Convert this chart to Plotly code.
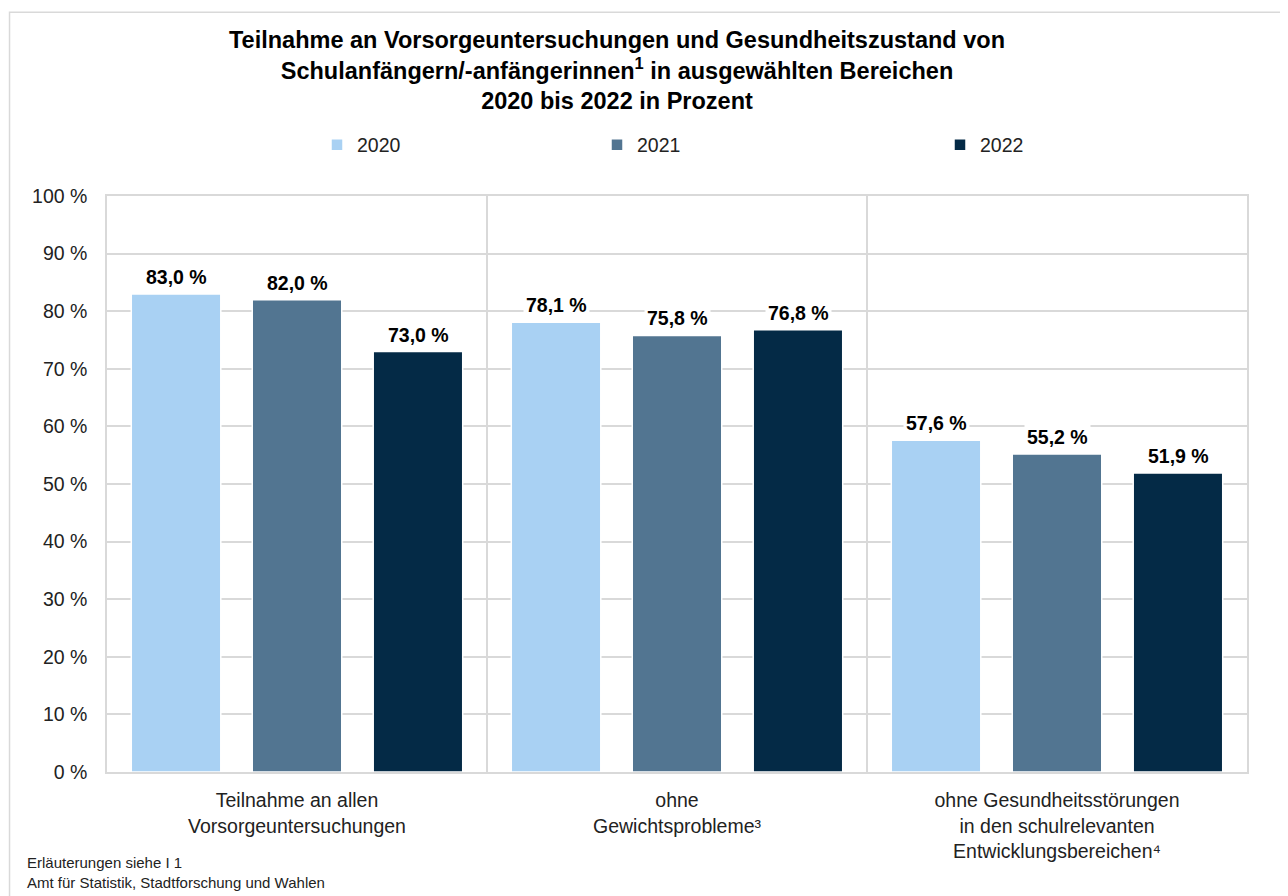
import plotly.graph_objects as go

categories = [
    "Teilnahme an allen<br>Vorsorgeuntersuchungen",
    "ohne<br>Gewichtsprobleme³",
    "ohne Gesundheitsstörungen<br>in den schulrelevanten<br>Entwicklungsbereichen⁴",
]
years = ["2020", "2021", "2022"]
values_2020 = [83.0, 78.1, 57.6]
values_2021 = [82.0, 75.8, 55.2]
values_2022 = [73.0, 76.8, 51.9]
series = [values_2020, values_2021, values_2022]
colors = ["#A9D1F3", "#527591", "#042A46"]
y_ticks = list(range(0, 101, 10))
y_tick_labels = [f"{v} %" for v in y_ticks]

FONT = "Liberation Sans, Arial, sans-serif"
GRID = "#d9d9d9"
W, H = 1280, 888  # page body adds an 8px margin

fig = go.Figure()
legend_ids = ["legend2", "legend3", "legend4"]
for i, (year, vals) in enumerate(zip(years, series)):
    fig.add_trace(go.Bar(
        x=categories, y=vals, name=year,
        marker=dict(color=colors[i], line=dict(color="white", width=1.5)),
        legend=legend_ids[i],
    ))

# value labels with white background
shifts = [-121, 0, 121]
for i, vals in enumerate(series):
    for cat, v in zip(categories, vals):
        fig.add_annotation(
            x=cat, y=v, text=f"<b>{v:.1f} %</b>".replace(".", ","),
            showarrow=False, xshift=shifts[i], yshift=3, yanchor="bottom",
            bgcolor="white", borderpad=2,
            font=dict(family=FONT, size=19.5, color="#000"),
        )

fig.add_annotation(
    xref="paper", yref="paper", x=-0.072, y=-0.139, xanchor="left", yanchor="top",
    text="Erläuterungen siehe I 1<br>Amt für Statistik, Stadtforschung und Wahlen",
    align="left", showarrow=False, font=dict(family=FONT, size=15, color="#222"),
)

fig.add_shape(type="rect", xref="paper", yref="paper",
              x0=-0.0855, x1=1.0355, y0=-0.222, y1=1.319,
              line=dict(color=GRID, width=1.5), layer="below")

legend_x = [309, 589, 932]
leg = dict(orientation="h", xref="container", yref="container", y=1 - 137 / H,
           yanchor="middle", xanchor="left", font=dict(family=FONT, size=19.5, color="#222"),
           bgcolor="rgba(0,0,0,0)", itemwidth=30)

fig.update_layout(
    width=W, height=H,
    margin=dict(l=99, r=41, t=188, b=124, autoexpand=False),
    paper_bgcolor="white", plot_bgcolor="white",
    font=dict(family=FONT, color="#222"),
    showlegend=True,
    title=dict(
        text="<b>Teilnahme an Vorsorgeuntersuchungen und Gesundheitszustand von<br>"
             "Schulanfängern/-anfängerinnen<sup>1</sup> in ausgewählten Bereichen<br>"
             "2020 bis 2022 in Prozent</b>",
        x=609 / W, xanchor="center", xref="container",
        y=1 - 40 / H, yanchor="top",
        font=dict(family=FONT, size=23.5, color="#000"),
    ),
    barmode="group", bargap=0.045, bargroupgap=0.26,
    legend=dict(visible=False),
    legend2=dict(leg, x=legend_x[0] / W),
    legend3=dict(leg, x=legend_x[1] / W),
    legend4=dict(leg, x=legend_x[2] / W),
    xaxis=dict(
        showgrid=True, gridcolor=GRID, gridwidth=1.5, tickson="boundaries",
        showline=True, linecolor=GRID, linewidth=1.5, mirror=True,
        ticks="outside", ticklen=0, ticklabelstandoff=10,
        tickfont=dict(family=FONT, size=19.5, color="#222"),
    ),
    yaxis=dict(
        range=[0, 100], tickvals=y_ticks, ticktext=y_tick_labels,
        showgrid=True, gridcolor=GRID, gridwidth=1.5,
        showline=True, linecolor=GRID, linewidth=1.5, mirror=True,
        zeroline=False, ticks="outside", ticklen=0, ticklabelstandoff=14,
        tickfont=dict(family=FONT, size=19.5, color="#222"),
    ),
)

fig.write_html("out.html")
